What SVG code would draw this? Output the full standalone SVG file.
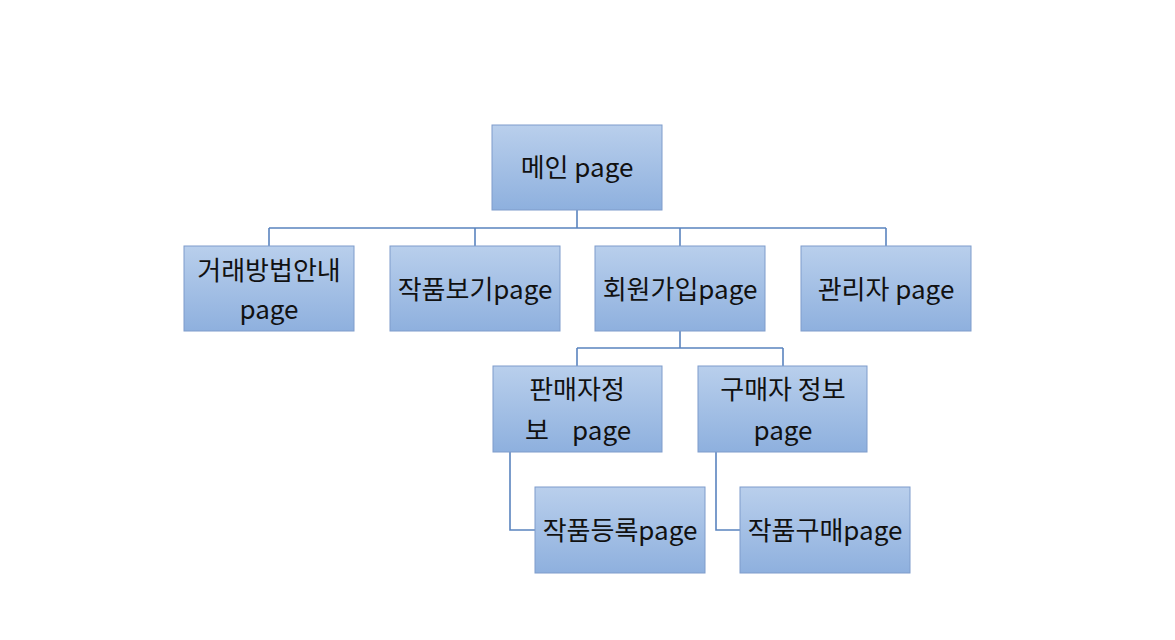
<svg xmlns="http://www.w3.org/2000/svg" width="1175" height="640" viewBox="0 0 1175 640">
<defs>
<linearGradient id="g" x1="0" y1="0" x2="0" y2="1">
<stop offset="0" stop-color="#b9cfec"/>
<stop offset="1" stop-color="#8eb0de"/>
</linearGradient>
<style>
.box{fill:url(#g);stroke:#7e9ccb;stroke-width:1}
.t{font-family:"Noto Sans CJK KR","Noto Sans",sans-serif;font-size:26px;fill:#111;text-anchor:middle}
.c{fill:none;stroke:#5a84bf;stroke-width:1.6}
</style>
</defs>
<rect width="1175" height="640" fill="#fff"/>
<g id="connectors">
<path class="c" d="M577 210V228M269 228H886M269 228V246M475 228V246M680 228V246M886 228V246"/>
<path class="c" d="M680 331V348M577 348H783M577 348V366M783 348V366"/>
<path class="c" d="M510 452V530H535M716 452V530H740"/>
</g>
<g id="main"><rect class="box" x="492" y="125" width="170" height="85"/><text class="t" x="577" y="177">메인 page</text></g>
<g id="guide"><rect class="box" x="184" y="246" width="170" height="85"/><text class="t" x="269" y="280">거래방법안내</text><text class="t" x="269" y="319">page</text></g>
<g id="works"><rect class="box" x="390" y="246" width="170" height="85"/><text class="t" x="475" y="299">작품보기page</text></g>
<g id="join"><rect class="box" x="595" y="246" width="170" height="85"/><text class="t" x="680" y="299">회원가입page</text></g>
<g id="admin"><rect class="box" x="801" y="246" width="170" height="85"/><text class="t" x="886" y="299">관리자 page</text></g>
<g id="seller"><rect class="box" x="493" y="366" width="169" height="86"/><text class="t" x="577" y="399">판매자정</text><text class="t" x="578" y="440" xml:space="preserve">보    page</text></g>
<g id="buyer"><rect class="box" x="698" y="366" width="169" height="86"/><text class="t" x="783" y="399">구매자 정보</text><text class="t" x="783" y="440">page</text></g>
<g id="register"><rect class="box" x="535" y="487" width="170" height="86"/><text class="t" x="620" y="540">작품등록page</text></g>
<g id="purchase"><rect class="box" x="740" y="487" width="170" height="86"/><text class="t" x="825" y="540">작품구매page</text></g>
</svg>
